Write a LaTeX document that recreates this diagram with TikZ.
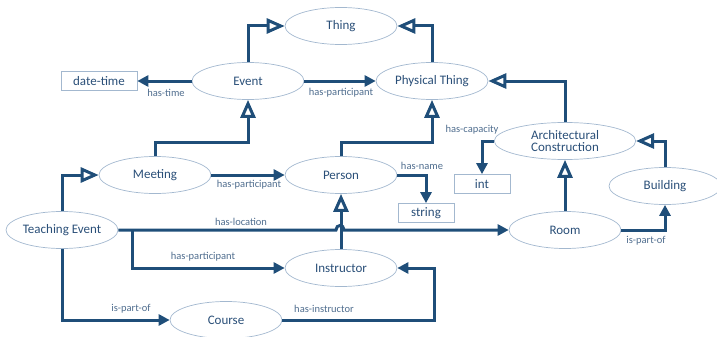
\documentclass[tikz,border=0pt]{standalone}
\usepackage{fontspec}
\setmainfont{Carlito}
\usetikzlibrary{arrows.meta,shapes.geometric}
\definecolor{linec}{HTML}{1F4E79}
\definecolor{textc}{HTML}{2A4F78}
\definecolor{bordc}{HTML}{A3B8CF}
\definecolor{labc}{HTML}{4F6D8E}
\tikzset{
  cls/.style={ellipse,draw=bordc,line width=0.7pt,minimum width=112pt,minimum height=37pt,inner sep=0pt,text=textc,font=\fontsize{13}{14}\selectfont,align=center},
  lit/.style={rectangle,draw=bordc,line width=0.7pt,minimum height=19pt,inner sep=0pt,text=textc,font=\fontsize{13}{14}\selectfont},
  lbl/.style={text=labc,font=\fontsize{10.5}{12}\selectfont,inner sep=0pt},
  rel/.style={draw=linec,line width=3pt,-{Triangle[length=11pt,width=11pt]}},
  gen/.style={draw=linec,line width=3pt,-{Triangle[open,length=18pt,width=15pt,fill=white]}},
}
\begin{document}
\begin{tikzpicture}[x=1pt,y=-1pt]
\useasboundingbox (0,0) rectangle (717,337);
% classes
\node[cls] (thing) at (341,26) {Thing};
\node[cls] (event) at (248,81) {Event};
\node[cls] (pthing) at (432,81) {Physical Thing};
\node[cls] (meeting) at (155,175) {Meeting};
\node[cls] (person) at (341,175) {Person};
\node[cls] (teach) at (62,230) {Teaching Event};
\node[cls] (instr) at (341,268) {Instructor};
\node[cls] (course) at (226,320) {Course};
\node[cls,text width=100pt] (arch) at (565,141) {Architectural\\[-2pt]Construction};
\node[cls] (building) at (665,186) {Building};
\node[cls] (room) at (565,230) {Room};
% literals
\node[lit,minimum width=76pt] (dt) at (99,81) {date-time};
\node[lit,minimum width=56pt] (int) at (482,184) {int};
\node[lit,minimum width=56pt] (str) at (426,213) {string};
% coordinates
\coordinate (c1) at (248,142);
\coordinate (c2) at (432,142);
\coordinate (c3) at (132,230);
\coordinate (c4) at (434,320);
\coordinate (h1) at (336,230);
\coordinate (h2) at (344,230);
% generalisations
\draw[gen] (event.north) |- (thing.west);
\draw[gen] (pthing.north) |- (thing.east);
\draw[gen] (meeting.north) |- (c1) -- (event.south);
\draw[gen] (person.north) |- (c2) -- (pthing.south);
\draw[gen] (arch.north) |- (pthing.east);
\draw[gen] (building.north) |- (arch.east);
\draw[gen] (room.north) -- (arch.south);
\draw[gen] (teach.north) |- (meeting.west);
\draw[gen] (instr.north) -- (person.south);
% relations
\draw[rel] (event.west) -- (dt.east);
\node[lbl] at (166,93) {has-time};
\draw[rel] (event.east) -- (pthing.west);
\node[lbl] at (341,93) {has-participant};
\draw[rel] (arch.west) -| (int.north);
\node[lbl] at (472,130) {has-capacity};
\draw[rel] (person.east) -| (str.north);
\node[lbl] at (422,166) {has-name};
\draw[rel] (meeting.east) -- (person.west);
\node[lbl] at (249,185) {has-participant};
\draw[rel] (teach.east) -- (h1) .. controls (336,224) and (344,224) .. (h2) -- (room.west);
\node[lbl] at (241,222) {has-location};
\draw[rel] (c3) |- (instr.west);
\node[lbl] at (203,257) {has-participant};
\draw[rel] (teach.south) |- (course.west);
\node[lbl] at (131,309) {is-part-of};
\draw[rel] (course.east) -- (c4) |- (instr.east);
\node[lbl] at (324,309) {has-instructor};
\draw[rel] (room.east) -| (building.south);
\node[lbl] at (646,241) {is-part-of};
\end{tikzpicture}
\end{document}
